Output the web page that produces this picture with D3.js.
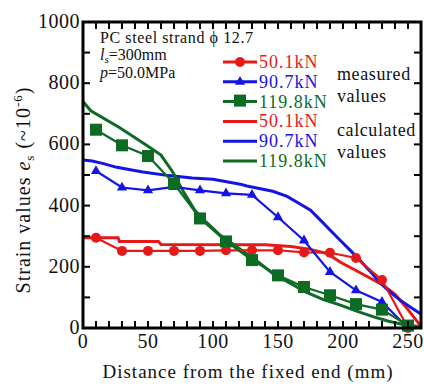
<!DOCTYPE html>
<html>
<head>
<meta charset="utf-8">
<script src="https://cdn.jsdelivr.net/npm/d3@7"></script>
<style>
  body { margin: 0; background: #fff; }
</style>
</head>
<body>
<div id="chart"></div>
<script>
// measured values (distance mm, strain x10^-6)
const measRed = [[10,295],[30,252],[50,252],[70,252],[90,252],[110,254],[130,254],[150,254],[170,247],[190,246],[210,229],[230,157],[250,0]];
const measBlue = [[10,513],[30,459],[50,450],[70,461],[90,450],[110,440],[130,435],[150,362],[170,286],[190,183],[210,123],[230,85],[250,0]];
const measGreen = [[10,648],[30,597],[50,562],[70,472],[90,358],[110,283],[130,222],[150,172],[170,134],[190,107],[210,78],[230,60],[250,8]];

// calculated values
const calcRed = [[0,295],[27,295],[28,283],[58,283],[60,273],[140,272],[160,266],[175,257],[188,243],[198,215],[210,188],[220,165],[231,140],[240,110],[250,60],[260,5],[262,0]];
const calcBlue = [[0,549],[7,546],[15,538],[26,525],[46,510],[66,498],[84,490],[100,486],[121,470],[126,464],[146,447],[157,430],[167,405],[175,385],[183,351],[190,320],[198,286],[206,252],[213,221],[221,185],[228,150],[236,118],[244,91],[252,68],[259,48],[262,40]];
const calcGreen = [[0,740],[6,710],[28,655],[48,600],[60,565],[69,510],[78,440],[86,385],[95,345],[105,305],[115,275],[125,245],[135,215],[147,175],[160,145],[172,116],[185,93],[198,75],[210,56],[223,37],[235,22],[248,10],[262,3]];

const legendLabels = ["50.1kN", "90.7kN", "119.8kN"];
const xTickLabels = [0, 50, 100, 150, 200, 250];
const yTickLabels = [0, 200, 400, 600, 800, 1000];

const red = "#e61919", blue = "#1414e6", green = "#0d6b24";

const W = 424, H = 387;
const svg = d3.select("#chart").append("svg").attr("width", W).attr("height", H)
  .attr("font-family", "'Liberation Serif', 'Times New Roman', Times, 'DejaVu Serif', serif");

const x = d3.scaleLinear().domain([0, 260]).range([83, 421]);
const y = d3.scaleLinear().domain([0, 1000]).range([328, 22]);

const plot = svg.append("g");
plot.append("clipPath").attr("id", "clip").append("rect")
  .attr("x", x(0)).attr("y", y(1000)).attr("width", x(260) - x(0)).attr("height", y(0) - y(1000));

const line = d3.line().x(d => x(d[0])).y(d => y(d[1]));
const lines = plot.append("g").attr("clip-path", "url(#clip)");

// calculated curves
[[calcRed, red], [calcBlue, blue], [calcGreen, green]].forEach(([data, c]) => {
  lines.append("path").datum(data).attr("d", line)
    .attr("fill", "none").attr("stroke", c).attr("stroke-width", 3);
});

// measured curves
[[measRed, red], [measBlue, blue], [measGreen, green]].forEach(([data, c]) => {
  lines.append("path").datum(data).attr("d", line)
    .attr("fill", "none").attr("stroke", c).attr("stroke-width", 2.2);
});

function marker(g, type, c, cx, cy) {
  if (type === 0) g.append("circle").attr("cx", cx).attr("cy", cy).attr("r", 5).attr("fill", c);
  else if (type === 1) g.append("path").attr("d", d3.symbol(d3.symbolTriangle, 45)()).attr("transform", `translate(${cx},${cy})`).attr("fill", c);
  else g.append("rect").attr("x", cx - 6).attr("y", cy - 6).attr("width", 12).attr("height", 12).attr("fill", c);
}
const mk = plot.append("g");
[measRed, measBlue, measGreen].forEach((data, i) => {
  const c = [red, blue, green][i];
  data.forEach(d => marker(mk, i, c, x(d[0]), y(d[1])));
});

// frame and ticks
const axisG = svg.append("g").attr("stroke", "#000");
axisG.append("rect").attr("x", x(0)).attr("y", y(1000)).attr("width", x(260) - x(0)).attr("height", y(0) - y(1000))
  .attr("fill", "none").attr("stroke-width", 3);
d3.range(10, 260, 10).forEach(v => {
  axisG.append("line").attr("x1", x(v)).attr("x2", x(v)).attr("y1", y(0)).attr("y2", y(0) - 7).attr("stroke-width", 2);
  axisG.append("line").attr("x1", x(v)).attr("x2", x(v)).attr("y1", y(1000)).attr("y2", y(1000) + 7).attr("stroke-width", 2);
});
d3.range(100, 1000, 100).forEach(v => {
  axisG.append("line").attr("x1", x(0)).attr("x2", x(0) + 7).attr("y1", y(v)).attr("y2", y(v)).attr("stroke-width", 2);
  axisG.append("line").attr("x1", x(260)).attr("x2", x(260) - 7).attr("y1", y(v)).attr("y2", y(v)).attr("stroke-width", 2);
});

const txt = svg.append("g").attr("fill", "#111");
xTickLabels.forEach(v => {
  txt.append("text").attr("x", x(v)).attr("y", 348).attr("text-anchor", "middle")
    .attr("font-size", 20).attr("letter-spacing", 0.5).text(v);
});
yTickLabels.forEach(v => {
  txt.append("text").attr("x", 80).attr("y", y(v) + 6).attr("text-anchor", "end")
    .attr("font-size", 20).attr("letter-spacing", 0.5).text(v);
});

txt.append("text").attr("x", 248).attr("y", 378).attr("text-anchor", "middle")
  .attr("font-size", 19).attr("letter-spacing", 1).text("Distance from the fixed end (mm)");

const yl = txt.append("text").attr("transform", "translate(30,190) rotate(-90)")
  .attr("text-anchor", "middle").attr("font-size", 20).attr("letter-spacing", 1);
yl.append("tspan").text("Strain values ");
yl.append("tspan").attr("font-style", "italic").text("e");
yl.append("tspan").attr("font-size", 13).attr("dy", 4).text("s");
yl.append("tspan").attr("dy", -4).text(" (~10");
yl.append("tspan").attr("font-size", 13).attr("dy", -8).text("-6");
yl.append("tspan").attr("dy", 8).text(")");

// annotation
txt.append("text").attr("x", 100).attr("y", 43).attr("font-size", 16).attr("letter-spacing", 0.6)
  .text("PC steel strand  \u03d5 12.7");
const ls = txt.append("text").attr("x", 100).attr("y", 60).attr("font-size", 16);
ls.append("tspan").attr("font-style", "italic").text("l");
ls.append("tspan").attr("font-style", "italic").attr("font-size", 11).attr("dy", 3).text("s");
ls.append("tspan").attr("dy", -3).text("=300mm");
const pp = txt.append("text").attr("x", 100).attr("y", 78).attr("font-size", 16);
pp.append("tspan").attr("font-style", "italic").text("p");
pp.append("tspan").text("=50.0MPa");

// legend
const leg = svg.append("g");
const legColors = [red, blue, green];
legendLabels.concat(legendLabels).forEach((t, i) => {
  const c = legColors[i % 3];
  const ly = 62 + i * 19.8;
  leg.append("line").attr("x1", 223).attr("x2", 257).attr("y1", ly).attr("y2", ly)
    .attr("stroke", c).attr("stroke-width", 3);
  if (i < 3) marker(leg, i, c, 240, ly - (i === 2 ? 1 : 0));
  leg.append("text").attr("x", 259).attr("y", ly + 6).attr("fill", c)
    .attr("font-size", 18).attr("letter-spacing", 1).text(t);
});
[["measured", 80], ["values", 102], ["calculated", 136], ["values", 158]].forEach(([t, ty]) => {
  leg.append("text").attr("x", 337).attr("y", ty).attr("font-size", 18).attr("letter-spacing", 0.6)
    .attr("fill", "#111").text(t);
});
</script>
</body>
</html>
